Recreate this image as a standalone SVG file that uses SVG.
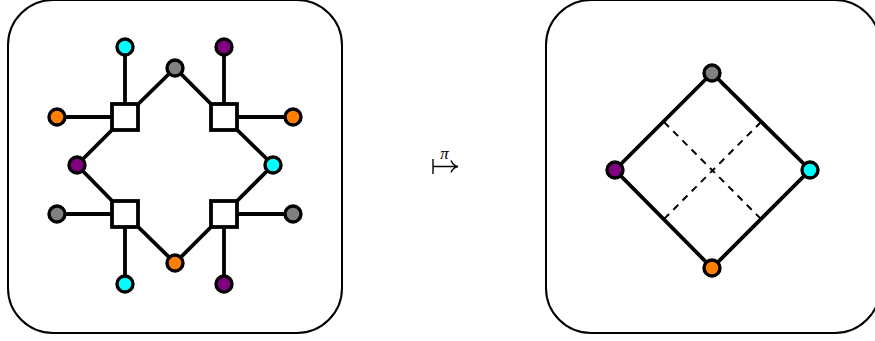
<svg xmlns="http://www.w3.org/2000/svg" width="875" height="341" viewBox="0 0 875 341">
<style>
.frame{fill:#fff;stroke:#000;stroke-width:2}
.e{stroke:#000;stroke-width:3.8;fill:none}
.d{stroke:#000;stroke-width:2;stroke-dasharray:7,6;fill:none}
.sq{fill:#fff;stroke:#000;stroke-width:3.8}
.v{stroke:#000;stroke-width:3.4}
.cy{fill:#00ffff}.pu{fill:#800080}.gr{fill:#808080}.or{fill:#ff8000}
</style>
<rect width="875" height="341" fill="#fff"/>
<rect id="frameL" class="frame" x="8" y="0" width="334" height="333" rx="45"/>
<rect id="frameR" class="frame" x="546" y="0" width="334" height="333" rx="45"/>
<g id="connectors">
<path class="e" d="M175,68L125,117L77,165L125,214L175,263L224,214L273,165L224,117Z"/>
<path class="e" d="M125,47V117M57,117H125M224,47V117M293,117H224M57,214H125M125,284V214M293,214H224M224,284V214"/>
<path class="e" d="M712,73L615,170L712,268L810,170Z"/>
<path class="d" d="M664,122L761,219M761,122L664,219"/>
<path stroke="#000" stroke-width="1.4" fill="none" d="M433,159V174M433,166.5H456M451,160.5Q453,165.5 458,166.5Q453,167.5 451,172.5"/>
</g>
<text x="444.5" y="159" font-family="Liberation Serif, serif" font-style="italic" font-size="17" text-anchor="middle">π</text>
<g id="squares">
<rect id="s1" class="sq" x="112" y="104" width="26" height="26"/>
<rect id="s2" class="sq" x="211" y="104" width="26" height="26"/>
<rect id="s3" class="sq" x="112" y="201" width="26" height="26"/>
<rect id="s4" class="sq" x="211" y="201" width="26" height="26"/>
</g>
<g id="vertices">
<circle id="v1" class="v cy" cx="125" cy="47" r="8"/>
<circle id="v2" class="v pu" cx="224" cy="47" r="8"/>
<circle id="v3" class="v gr" cx="175" cy="68" r="8"/>
<circle id="v4" class="v or" cx="57" cy="117" r="8"/>
<circle id="v5" class="v or" cx="293" cy="117" r="8"/>
<circle id="v6" class="v pu" cx="77" cy="165" r="8"/>
<circle id="v7" class="v cy" cx="273" cy="165" r="8"/>
<circle id="v8" class="v gr" cx="57" cy="214" r="8"/>
<circle id="v9" class="v gr" cx="293" cy="214" r="8"/>
<circle id="v10" class="v or" cx="175" cy="263" r="8"/>
<circle id="v11" class="v cy" cx="125" cy="284" r="8"/>
<circle id="v12" class="v pu" cx="224" cy="284" r="8"/>
<circle id="w1" class="v gr" cx="712" cy="73" r="8"/>
<circle id="w2" class="v pu" cx="615" cy="170" r="8"/>
<circle id="w3" class="v cy" cx="810" cy="170" r="8"/>
<circle id="w4" class="v or" cx="712" cy="268" r="8"/>
</g>
</svg>
